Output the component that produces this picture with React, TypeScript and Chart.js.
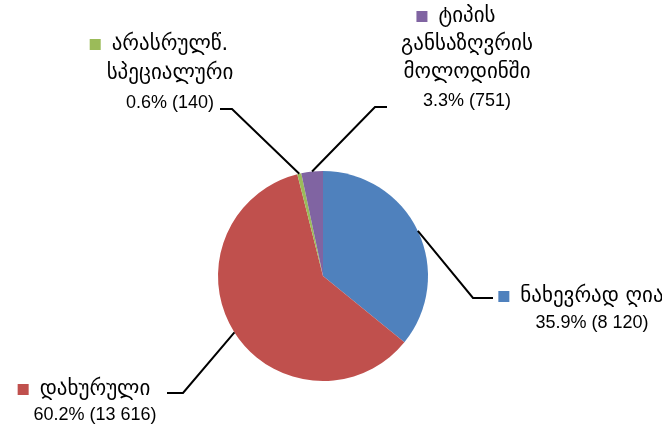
import React, { useEffect, useRef } from "react";
import { Chart, registerables } from "chart.js";

Chart.register(...registerables);

const categories: string[][] = [
  ["ნახევრად ღია"],
  ["დახურული"],
  ["არასრულწ.", "სპეციალური"],
  ["ტიპის", "განსაზღვრის", "მოლოდინში"],
];
const values: number[] = [8120, 13616, 140, 751];
const percentLabels: string[] = ["35.9%", "60.2%", "0.6%", "3.3%"];
const valueLabels: string[] = ["8 120", "13 616", "140", "751"];
const colors: string[] = ["#4F81BD", "#C0504D", "#9BBB59", "#8064A2"];

// label layout: elbow & end of leader, text centre x, first line y, line step
const labelLayout = [
  { elbow: [473, 298], end: [493, 298], cx: 592, y0: 297, step: 26 },
  { elbow: [183, 393], end: [167, 393], cx: 95, y0: 390, step: 25 },
  { elbow: [232, 109], end: [220, 109], cx: 170, y0: 45, step: 29 },
  { elbow: [375, 107], end: [387, 107], cx: 467, y0: 17, step: 28 },
];

const FONT_GEO = '21px "DejaVu Sans", sans-serif';
const FONT_NUM = '18px "Liberation Sans", "DejaVu Sans", sans-serif';

const labelPlugin = {
  id: "pieLabels",
  afterDraw(chart: any) {
    const ctx = chart.ctx;
    const meta = chart.getDatasetMeta(0);
    ctx.save();
    meta.data.forEach((arc: any, i: number) => {
      const L = labelLayout[i];
      const mid = (arc.startAngle + arc.endAngle) / 2;
      const px = arc.x + Math.cos(mid) * arc.outerRadius;
      const py = arc.y + Math.sin(mid) * arc.outerRadius;
      ctx.beginPath();
      ctx.strokeStyle = "#000";
      ctx.lineWidth = 2;
      ctx.moveTo(px, py);
      ctx.lineTo(L.elbow[0], L.elbow[1]);
      ctx.lineTo(L.end[0], L.end[1]);
      ctx.stroke();

      const geo = categories[i];
      const lines = [...geo, `${percentLabels[i]} (${valueLabels[i]})`];
      ctx.fillStyle = "#000";
      ctx.textAlign = "center";
      ctx.textBaseline = "middle";
      lines.forEach((t, j) => {
        ctx.font = j < geo.length ? FONT_GEO : FONT_NUM;
        ctx.fillText(t, L.cx, L.y0 + j * L.step);
      });
      ctx.font = FONT_GEO;
      const w0 = ctx.measureText(lines[0]).width;
      const sx = L.cx - w0 / 2 - 22;
      ctx.fillStyle = colors[i];
      ctx.fillRect(sx, L.y0 - 6, 11, 11);
    });
    ctx.restore();
  },
};

export default function App() {
  const ref = useRef<HTMLCanvasElement | null>(null);
  useEffect(() => {
    if (!ref.current) return;
    const chart = new Chart(ref.current, {
      type: "pie",
      data: {
        labels: categories.map((c) => c.join(" ")),
        datasets: [
          {
            data: values,
            backgroundColor: colors,
            borderWidth: 0,
          },
        ],
      },
      options: {
        responsive: false,
        animation: false,
        layout: { padding: { left: 100, right: 116, top: 171, bottom: 49 } },
        plugins: {
          legend: { display: false },
          tooltip: { enabled: false },
        },
      },
      plugins: [labelPlugin],
    });
    return () => chart.destroy();
  }, []);
  return (
    <div style={{ position: "absolute", left: 0, top: 0, width: 662, height: 430, background: "#fff" }}>
      <canvas ref={ref} width={662} height={430} style={{ display: "block" }} />
    </div>
  );
}
